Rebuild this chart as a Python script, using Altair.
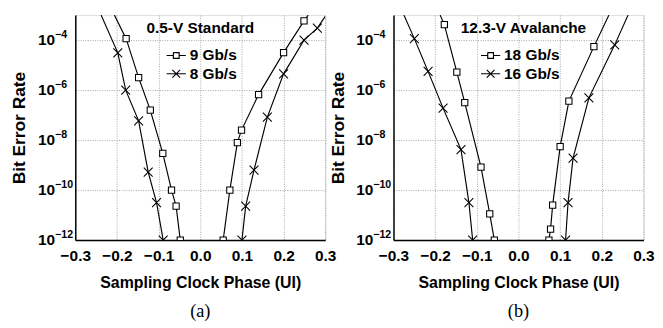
import altair as alt
import pandas as pd

# ---------------- data ----------------
# Panel (a) 0.5-V Standard  (exponent of BER)
a9_left_x = [-0.206, -0.178, -0.148, -0.120, -0.090, -0.069, -0.058, -0.048]
a9_left_e = [-3.0, -3.94, -5.5, -6.8, -8.53, -10.0, -10.64, -12.0]
a9_left_m = [0, 1, 1, 1, 1, 1, 1, 1]
a9_right_x = [0.055, 0.071, 0.089, 0.099, 0.140, 0.200, 0.249, 0.259]
a9_right_e = [-12.0, -10.0, -8.1, -7.6, -6.18, -4.5, -3.23, -3.0]
a9_right_m = [1, 1, 1, 1, 1, 1, 1, 0]
a8_left_x = [-0.238, -0.198, -0.179, -0.148, -0.125, -0.105, -0.089]
a8_left_e = [-3.0, -4.51, -6.0, -7.23, -9.28, -10.5, -12.0]
a8_left_m = [0, 1, 1, 1, 1, 1, 1]
a8_right_x = [0.100, 0.109, 0.129, 0.161, 0.200, 0.249, 0.281, 0.300]
a8_right_e = [-12.0, -10.64, -9.2, -7.08, -5.35, -4.0, -3.52, -3.05]
a8_right_m = [1, 1, 1, 1, 1, 1, 1, 0]

# Panel (b) 12.3-V Avalanche
b18_left_x = [-0.188, -0.178, -0.148, -0.129, -0.090, -0.069, -0.058]
b18_left_e = [-3.0, -3.38, -5.28, -6.5, -9.08, -10.95, -12.0]
b18_left_m = [0, 1, 1, 1, 1, 1, 1]
b18_right_x = [0.073, 0.077, 0.082, 0.100, 0.121, 0.181, 0.217]
b18_right_e = [-12.0, -11.56, -10.6, -8.26, -6.44, -4.26, -3.0]
b18_right_m = [1, 1, 1, 1, 1, 1, 0]
b16_left_x = [-0.275, -0.250, -0.217, -0.181, -0.138, -0.119, -0.110]
b16_left_e = [-3.0, -3.94, -5.25, -6.72, -8.38, -10.5, -12.0]
b16_left_m = [0, 1, 1, 1, 1, 1, 1]
b16_right_x = [0.113, 0.119, 0.131, 0.169, 0.231, 0.263]
b16_right_e = [-12.0, -10.5, -8.72, -6.31, -4.19, -3.0]
b16_right_m = [1, 1, 1, 1, 1, 0]

series_a = ["9 Gb/s", "8 Gb/s"]
series_b = ["18 Gb/s", "16 Gb/s"]
x_ticks = [-0.3, -0.2, -0.1, 0.0, 0.1, 0.2, 0.3]
y_ticks = [1e-12, 1e-10, 1e-8, 1e-6, 1e-4]
y_tick_exp = ["\u221212", "\u221210", "\u22128", "\u22126", "\u22124"]

FONT = "Liberation Sans, Arial, sans-serif"
SERIF = "Liberation Serif, Times New Roman, serif"

X_MARK = "M-1,-1L1,1M-1,1L1,-1"
SQ_LEG = "M-1,0L-0.3,0M0.3,0L1,0M-0.3,-0.3L0.3,-0.3L0.3,0.3L-0.3,0.3L-0.3,-0.3"
X_LEG = "M-1,0L1,0M-0.4,-0.4L0.4,0.4M-0.4,0.4L0.4,-0.4"


def rows(series, branch, xs, es, ms):
    out = []
    for i, (x, e, m) in enumerate(zip(xs, es, ms)):
        out.append({"series": series, "branch": series + branch, "order": i,
                    "phase": x, "ber": 10.0 ** e, "marker": m})
    return out


df_a = pd.DataFrame(
    rows("9 Gb/s", "L", a9_left_x, a9_left_e, a9_left_m)
    + rows("9 Gb/s", "R", a9_right_x, a9_right_e, a9_right_m)
    + rows("8 Gb/s", "L", a8_left_x, a8_left_e, a8_left_m)
    + rows("8 Gb/s", "R", a8_right_x, a8_right_e, a8_right_m)
)
df_b = pd.DataFrame(
    rows("18 Gb/s", "L", b18_left_x, b18_left_e, b18_left_m)
    + rows("18 Gb/s", "R", b18_right_x, b18_right_e, b18_right_m)
    + rows("16 Gb/s", "L", b16_left_x, b16_left_e, b16_left_m)
    + rows("16 Gb/s", "R", b16_right_x, b16_right_e, b16_right_m)
)
df_ylab = pd.DataFrame({"ber": y_ticks, "base": ["10"] * len(y_ticks), "exp": y_tick_exp})


def panel(df, series, legend_title, legend_x, caption):
    x = alt.X("phase:Q",
              scale=alt.Scale(domain=[-0.3, 0.3], nice=False, zero=False),
              axis=alt.Axis(values=x_ticks, format=".1f", title="Sampling Clock Phase (UI)",
                            labelFont=FONT, labelFontSize=16, labelFontWeight="bold", labelColor="black",
                            titleFont=FONT, titleFontSize=16.5, titleFontWeight="bold", titleColor="black",
                            labelPadding=8, titlePadding=12, tickSize=0, labelOverlap=False,
                            labelFlush=False, labelBound=False,
                            domainColor="black", domainWidth=1.5,
                            grid=True, gridColor="#888", gridDash=[1, 1.5], gridWidth=0.8))
    yscale = alt.Scale(type="log", domain=[1e-12, 1e-3], nice=False)
    y = alt.Y("ber:Q", scale=yscale,
              axis=alt.Axis(values=y_ticks, labels=False, title="Bit Error Rate",
                            titleFont=FONT, titleFontSize=18, titleFontWeight="bold", titleColor="black",
                            titlePadding=48, tickSize=0,
                            domainColor="black", domainWidth=1.5,
                            grid=True, gridColor="#888", gridDash=[1, 1.5], gridWidth=0.8))
    base = alt.Chart(df)
    lines = base.mark_line(color="black", strokeWidth=1.2, clip=True).encode(
        x=x, y=y, detail="branch:N", order="order:Q")
    pts = base.transform_filter("datum.marker == 1").mark_point(
        fill="white", stroke="black", strokeWidth=1.1, opacity=1, filled=False, clip=True
    ).encode(
        x=x, y=y,
        shape=alt.Shape("series:N", scale=alt.Scale(domain=series, range=["square", X_MARK]), legend=None),
        size=alt.Size("series:N", scale=alt.Scale(domain=series, range=[42, 85]), legend=None),
    )
    # legend-only layer: its marks sit above the plot and are clipped away
    leg = base.transform_filter("datum.marker == 1").mark_point(
        stroke="black", strokeWidth=1.2, opacity=1, filled=False, size=400, clip=True
    ).encode(
        x=x, y=alt.value(-200),
        shape=alt.Shape("series:N", scale=alt.Scale(domain=series, range=[SQ_LEG, X_LEG]),
                        legend=alt.Legend(title=legend_title, orient="none", legendX=legend_x, legendY=6,
                                          symbolOffset=20, symbolSize=400, symbolStrokeColor="black",
                                          symbolStrokeWidth=1.2, symbolOpacity=1,
                                          titleFont=FONT, titleFontSize=16, titleFontWeight="bold",
                                          titleColor="black", titlePadding=9,
                                          labelFont=FONT, labelFontSize=16, labelFontWeight="bold",
                                          labelColor="black", labelOffset=3, rowPadding=0,
                                          padding=0)),
    )
    ylab_base = alt.Chart(df_ylab).mark_text(
        font=FONT, fontSize=16, fontWeight="bold", color="black", align="right", baseline="middle"
    ).encode(x=alt.value(-21), y=alt.Y("ber:Q", scale=yscale), text="base:N")
    ylab_exp = alt.Chart(df_ylab).mark_text(
        font=FONT, fontSize=11, fontWeight="bold", color="black", align="left", baseline="middle", dy=-5
    ).encode(x=alt.value(-21), y=alt.Y("ber:Q", scale=yscale), text="exp:N")
    return alt.layer(lines, pts, leg, ylab_base, ylab_exp).resolve_scale(
        shape="independent", size="independent").properties(
        width=260, height=234,
        title=alt.TitleParams(caption, orient="bottom", font=SERIF, fontSize=19, fontWeight="normal",
                              color="black", offset=12))


left = panel(df_a, series_a, "0.5-V Standard", 74, "(a)")
right = panel(df_b, series_b, "12.3-V Avalanche", 70, "(b)")

chart = alt.HConcatChart(hconcat=[left, right], spacing=71, bounds="flush").properties(
    padding={"left": 3, "top": 0, "right": 0, "bottom": 0}
).configure_view(stroke="#999", strokeWidth=0.8).configure(background="white")

chart.save("out.html", embed_options={"renderer": "svg", "actions": False})
